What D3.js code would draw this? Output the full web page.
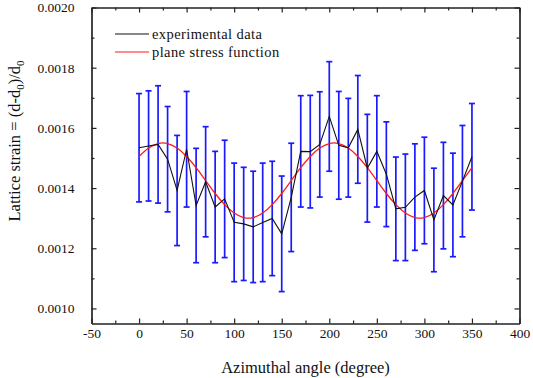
<!DOCTYPE html>
<html lang="en">

<head>
  <meta charset="UTF-8">
  <title>Lattice strain vs azimuthal angle</title>
  <script src="https://d3js.org/d3.v7.min.js"></script>
  <style>
    body { margin: 0; background: #fff; }
  </style>
</head>

<body>
  <svg width="533" height="378"></svg>
</body>

<script>
  // angles (degree) of the measured points
  const angles = [0, 10, 20, 30, 40, 50, 60, 70, 80, 90, 100, 110, 120, 130, 140, 150, 160, 170,
    180, 190, 200, 210, 220, 230, 240, 250, 260, 270, 280, 290, 300, 310, 320, 330, 340, 350];
  // experimental lattice strain
  const strain = [0.001534, 0.001540, 0.001545, 0.001496, 0.001392, 0.001529, 0.001342, 0.001421, 0.001337,
    0.001364, 0.001286, 0.001281, 0.001271, 0.001286, 0.001299, 0.001248, 0.001369, 0.001522,
    0.001521, 0.001545, 0.001638, 0.001542, 0.001534, 0.001595, 0.001466, 0.001522, 0.001446,
    0.001331, 0.001336, 0.001370, 0.001392, 0.001294, 0.001375, 0.001344, 0.001423, 0.001504];
  // half length of the error bars
  const strainErr = [0.000180, 0.000183, 0.000195, 0.000175, 0.000183, 0.000192, 0.000190, 0.000183, 0.000185,
    0.000195, 0.000197, 0.000188, 0.000185, 0.000197, 0.000190, 0.000192, 0.000180, 0.000185,
    0.000187, 0.000175, 0.000182, 0.000179, 0.000164, 0.000179, 0.000179, 0.000185, 0.000174,
    0.000172, 0.000177, 0.000177, 0.000177, 0.000172, 0.000177, 0.000172, 0.000185, 0.000177];
  // plane stress function, read at the same angles
  const fitStrain = [0.001505, 0.001533, 0.001548, 0.001548, 0.001533, 0.001505, 0.001468, 0.001425, 0.001382,
    0.001345, 0.001317, 0.001302, 0.001302, 0.001317, 0.001345, 0.001382, 0.001425, 0.001468,
    0.001505, 0.001533, 0.001548, 0.001548, 0.001533, 0.001505, 0.001468, 0.001425, 0.001382,
    0.001345, 0.001317, 0.001302, 0.001302, 0.001317, 0.001345, 0.001382, 0.001425, 0.001468];

  const xTicks = [-50, 0, 50, 100, 150, 200, 250, 300, 350, 400];
  const yTicks = [0.0010, 0.0012, 0.0014, 0.0016, 0.0018, 0.0020];
  const legendLabels = ["experimental data", "plane stress function"];

  const serif = "'Liberation Serif', 'Times New Roman', serif";

  const svg = d3.select("svg").attr("font-family", serif);
  const width = +svg.attr("width");
  const height = +svg.attr("height");
  const margin = { left: 91.5, top: 7.5, right: 13.5, bottom: 54.5 };
  const innerWidth = width - margin.left - margin.right;
  const innerHeight = height - margin.top - margin.bottom;

  const maingroup = svg.append("g")
    .attr("transform", "translate(" + margin.left + "," + margin.top + ")");

  const x = d3.scaleLinear().domain([-50, 400]).range([0, innerWidth]);
  const y = d3.scaleLinear().domain([0.00095, 0.0020]).range([innerHeight, 0]);

  const xMinor = d3.range(-25, 400, 50);
  const yMinor = d3.range(0.0011, 0.0020, 0.0002);

  // axes: major ticks inside, minor ticks in between, on all four sides
  function styleAxis(g) {
    g.attr("font-family", serif).attr("font-size", "13.5px");
    g.select(".domain").attr("stroke", "#222").attr("stroke-width", 1.2);
    g.selectAll(".tick line").attr("stroke", "#222").attr("stroke-width", 1.2);
    g.selectAll("text").attr("fill", "#111");
  }

  maingroup.append("g")
    .attr("transform", "translate(0," + innerHeight + ")")
    .call(d3.axisBottom(x).tickValues(xTicks).tickSize(-5).tickPadding(5).tickSizeOuter(0)
      .tickFormat(d => String(d)))
    .call(styleAxis);
  maingroup.append("g")
    .attr("transform", "translate(0," + innerHeight + ")")
    .call(d3.axisBottom(x).tickValues(xMinor).tickSize(-3).tickFormat("").tickSizeOuter(0))
    .call(styleAxis);
  maingroup.append("g")
    .call(d3.axisTop(x).tickValues(xTicks).tickSize(-5).tickFormat("").tickSizeOuter(0))
    .call(styleAxis);
  maingroup.append("g")
    .call(d3.axisTop(x).tickValues(xMinor).tickSize(-3).tickFormat("").tickSizeOuter(0))
    .call(styleAxis);

  maingroup.append("g")
    .call(d3.axisLeft(y).tickValues(yTicks).tickSize(-5).tickPadding(17).tickSizeOuter(0)
      .tickFormat(d3.format(".4f")))
    .call(styleAxis);
  maingroup.append("g")
    .call(d3.axisLeft(y).tickValues(yMinor).tickSize(-3).tickFormat("").tickSizeOuter(0))
    .call(styleAxis);
  maingroup.append("g")
    .attr("transform", "translate(" + innerWidth + ",0)")
    .call(d3.axisRight(y).tickValues(yTicks).tickSize(-5).tickFormat("").tickSizeOuter(0))
    .call(styleAxis);
  maingroup.append("g")
    .attr("transform", "translate(" + innerWidth + ",0)")
    .call(d3.axisRight(y).tickValues(yMinor).tickSize(-3).tickFormat("").tickSizeOuter(0))
    .call(styleAxis);

  const points = angles.map((a, i) => ({ a: a, v: strain[i], e: strainErr[i], f: fitStrain[i] }));

  // error bars
  const bars = maingroup.append("g").attr("stroke", "#1a1aff").attr("stroke-width", 1.7);
  bars.selectAll(".stem")
    .data(points)
    .enter()
    .append("line")
    .attr("x1", d => x(d.a)).attr("x2", d => x(d.a))
    .attr("y1", d => y(d.v + d.e)).attr("y2", d => y(d.v - d.e));
  bars.selectAll(".capTop")
    .data(points)
    .enter()
    .append("line")
    .attr("x1", d => x(d.a) - 3).attr("x2", d => x(d.a) + 3)
    .attr("y1", d => y(d.v + d.e)).attr("y2", d => y(d.v + d.e));
  bars.selectAll(".capBottom")
    .data(points)
    .enter()
    .append("line")
    .attr("x1", d => x(d.a) - 3).attr("x2", d => x(d.a) + 3)
    .attr("y1", d => y(d.v - d.e)).attr("y2", d => y(d.v - d.e));

  // fitted curve
  maingroup.append("path")
    .datum(points)
    .attr("fill", "none")
    .attr("stroke", "#ff1a1a")
    .attr("stroke-width", 1.3)
    .attr("d", d3.line().x(d => x(d.a)).y(d => y(d.f)).curve(d3.curveNatural));

  // experimental data
  maingroup.append("path")
    .datum(points)
    .attr("fill", "none")
    .attr("stroke", "#111")
    .attr("stroke-width", 1.1)
    .attr("d", d3.line().x(d => x(d.a)).y(d => y(d.v)));

  // legend
  const legendColors = ["#111", "#ff1a1a"];
  const legend = maingroup.selectAll(".legend")
    .data(legendLabels)
    .enter()
    .append("g")
    .attr("transform", (d, i) => "translate(" + 23.5 + "," + (26.5 + i * 18) + ")");
  legend.append("line")
    .attr("x1", 0).attr("x2", 34)
    .attr("stroke", (d, i) => legendColors[i])
    .attr("stroke-width", 1.2);
  legend.append("text")
    .attr("x", 37)
    .attr("dy", "0.32em")
    .attr("fill", "#111")
    .attr("font-size", "14.5px")
    .attr("letter-spacing", "0.4px")
    .text(d => d);

  // axis titles
  svg.append("text")
    .attr("x", margin.left + innerWidth / 2)
    .attr("y", 373)
    .attr("text-anchor", "middle")
    .attr("fill", "#111")
    .attr("font-size", "16.5px")
    .text("Azimuthal angle (degree)");

  const yTitle = svg.append("text")
    .attr("transform", "translate(20,141) rotate(-90)")
    .attr("text-anchor", "middle")
    .attr("fill", "#111")
    .attr("font-size", "16.5px");
  yTitle.append("tspan").text("Lattice strain = (d-d");
  yTitle.append("tspan").attr("font-size", "11px").attr("dy", 4).text("0");
  yTitle.append("tspan").attr("dy", -4).text(")/d");
  yTitle.append("tspan").attr("font-size", "11px").attr("dy", 4).text("0");

</script>

</html>
